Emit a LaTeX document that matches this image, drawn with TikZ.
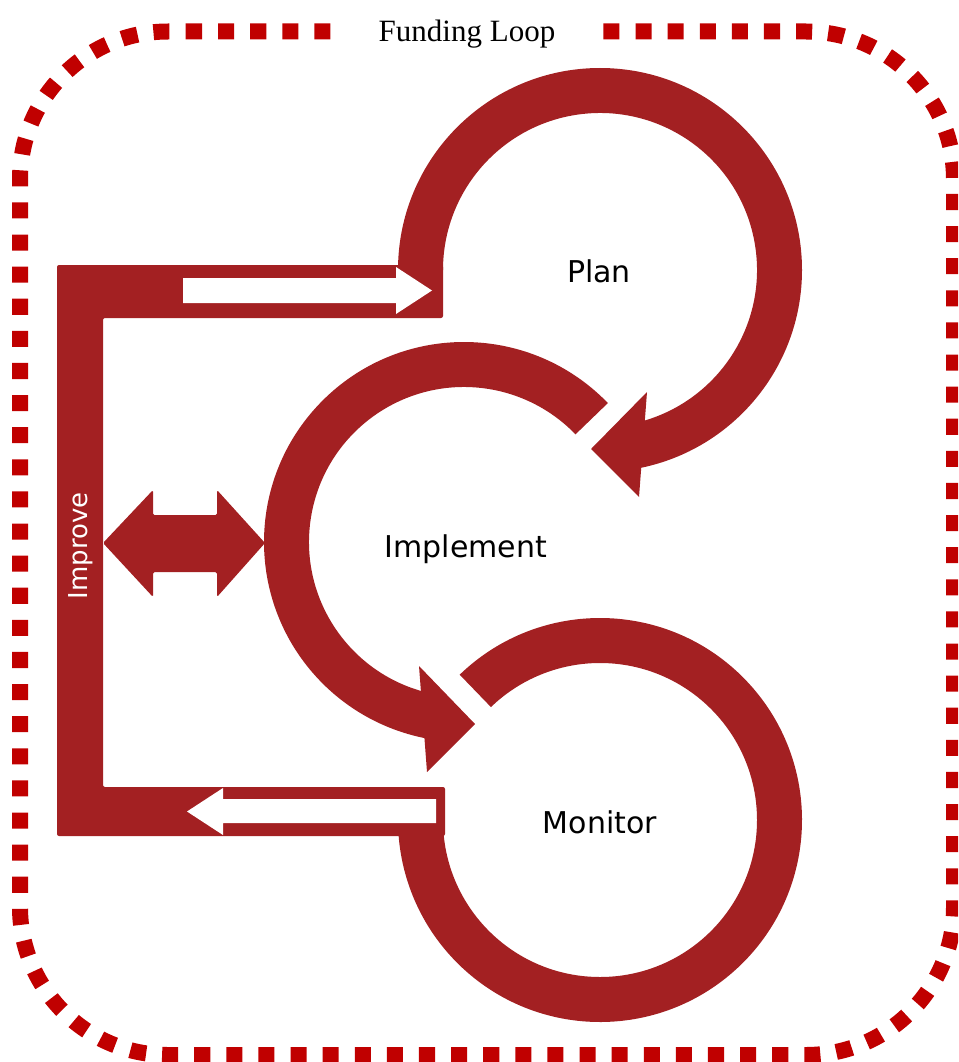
\documentclass[tikz,border=0pt]{standalone}
\usepackage{fontspec}
\newfontfamily\labelfont{DejaVu Sans}
\newfontfamily\titlefont{Liberation Serif}
\usetikzlibrary{calc}
\definecolor{loopred}{RGB}{163,32,34}
\definecolor{loopframe}{RGB}{192,0,0}
\tikzset{
  band/.style={fill=loopred},
  stagelabel/.style={font=\labelfont\fontsize{30}{36}\selectfont, text=black, anchor=base, inner sep=0pt},
  sidelabel/.style={font=\labelfont\fontsize{26}{30}\selectfont, text=white, rotate=90, inner sep=0pt},
  titlelabel/.style={font=\titlefont\fontsize{31}{36}\selectfont, fill=white, inner xsep=44pt, anchor=base},
  % 114 dash periods fit the frame's perimeter exactly
  dottedframe/.style={draw=loopframe, line width=16pt, dash pattern=on 16.055pt off 16.055pt, rounded corners=148pt},
}
\begin{document}
\begin{tikzpicture}[x=1pt,y=1pt]
\useasboundingbox (0,0) rectangle (958,-1062);
\clip (0,0) rectangle (958,-1062);

% centres of the three stage rings
\coordinate (plan) at (600,-270);
\coordinate (impl) at (464,-542);
\coordinate (mon)  at (600,-820);

% Plan ring and its head
\fill[band] ($(plan)+(180:202)$) arc[start angle=180, end angle=-82, radius=202]
  -- ($(plan)+(-82:157)$) arc[start angle=-82, end angle=180, radius=157] -- cycle;
\fill[band] (591,-449) -- (647,-392) -- (639,-497) -- cycle;

% Implement ring and its head
\fill[band] ($(impl)+(44:200)$) arc[start angle=44, end angle=262, radius=200]
  -- ($(impl)+(262:155)$) arc[start angle=262, end angle=44, radius=155] -- cycle;
\fill[band] (475,-724) -- (419,-666) -- (427,-772) -- cycle;

% Monitor ring
\fill[band] ($(mon)+(134:202)$) arc[start angle=134, end angle=-180, radius=202]
  -- ($(mon)+(-180:157)$) arc[start angle=-180, end angle=134, radius=157] -- cycle;

% Improve bracket
\fill[band, rounded corners=2pt] (57,-265) -- (443,-265) -- (443,-318) -- (103,-318)
  -- (103,-787) -- (445,-787) -- (445,-836) -- (57,-836) -- cycle;

% white arrows inside the bracket
\fill[white] (183,-278) -- (396,-278) -- (396,-267) -- (432,-290.5) -- (396,-314)
  -- (396,-303) -- (183,-303) -- cycle;
\fill[white] (436,-799) -- (223,-799) -- (223,-788) -- (187,-811.5) -- (223,-835)
  -- (223,-823) -- (436,-823) -- cycle;

% double arrow between bracket and Implement
\fill[band, rounded corners=1.5pt] (103,-543) -- (153,-490) -- (153,-515) -- (217,-515)
  -- (217,-490) -- (265,-543) -- (217,-597) -- (217,-572) -- (153,-572)
  -- (153,-597) -- cycle;

% labels
\node[stagelabel] (planlabel) at (599,-282) {Plan};
\node[stagelabel] (impllabel) at (466,-557) {Implement};
\node[stagelabel] (monlabel)  at (600,-833) {Monitor};
\node[sidelabel]  (improvelabel) at (81,-546) {Improve};

% dashed frame with its title
\draw[dottedframe] (186,-31.5) -- (954,-31.5) -- (954,-1055) -- (20,-1055) -- (20,-31.5) -- (186,-31.5);
\node[titlelabel] (title) at (467,-42) {Funding Loop};
\end{tikzpicture}
\end{document}
